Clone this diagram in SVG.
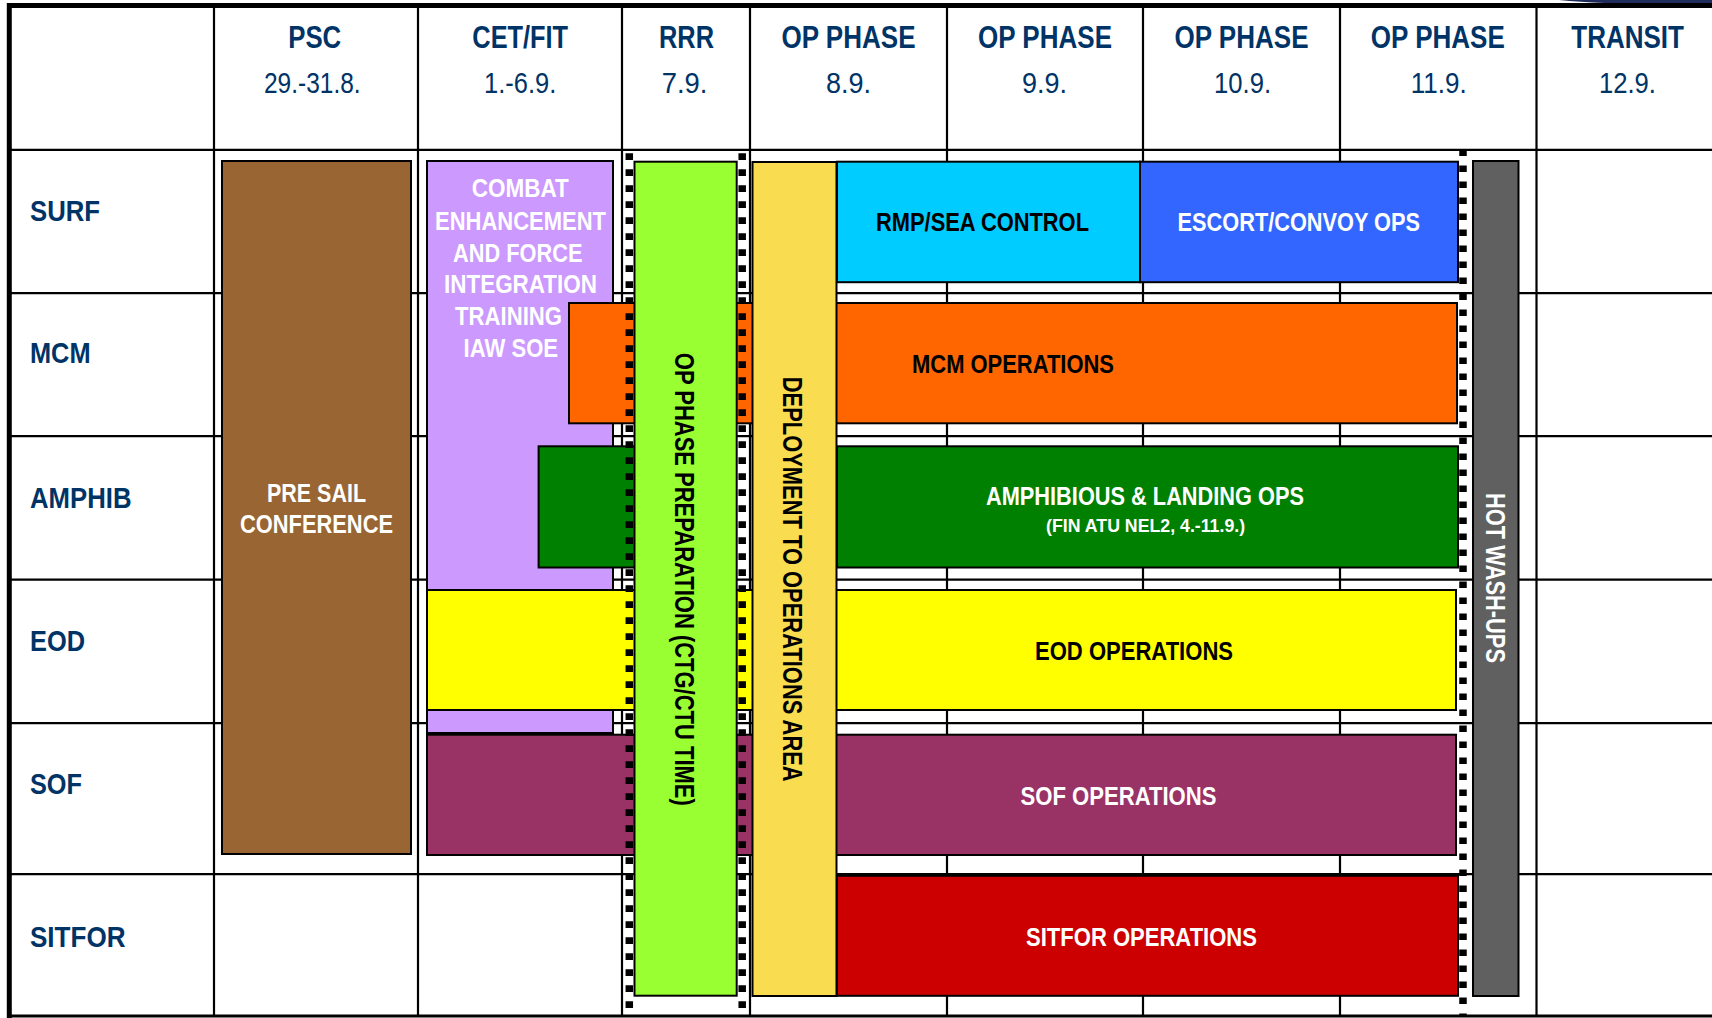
<svg xmlns="http://www.w3.org/2000/svg" width="1712" height="1018" viewBox="0 0 1712 1018">
<defs>
<style>
.hdr{font-family:"Liberation Sans Narrow","Arial Narrow","Liberation Sans",Arial,sans-serif;font-weight:bold;font-size:31px;fill:#003366;text-anchor:middle}
.date{font-family:"Liberation Sans Narrow","Arial Narrow","Liberation Sans",Arial,sans-serif;font-weight:normal;font-size:30px;fill:#003366;text-anchor:middle}
.row{font-family:"Liberation Sans Narrow","Arial Narrow","Liberation Sans",Arial,sans-serif;font-weight:bold;font-size:30px;fill:#003366}
.lbl{font-family:"Liberation Sans Narrow","Arial Narrow","Liberation Sans",Arial,sans-serif;font-weight:bold;font-size:25px;text-anchor:middle}
.sm{font-family:"Liberation Sans Narrow","Arial Narrow","Liberation Sans",Arial,sans-serif;font-weight:bold;font-size:18px;text-anchor:middle}
.vert{font-family:"Liberation Sans",Arial,sans-serif;font-weight:bold;font-size:28px;text-anchor:middle}
.w{fill:#fff}
.k{fill:#000}
.bar{stroke:#000;stroke-width:2}
.grid line{stroke:#000;stroke-width:2.2}
.dash{stroke:#000;stroke-width:7.5;stroke-dasharray:6.7 9.3;fill:none}
</style>
</defs>
<rect width="1712" height="1018" fill="#fff"/>
<path id="corner" d="M1559,0 Q1600,4 1660,4 L1712,4 L1712,0 Z" fill="#1f2d5c"/>

<g id="grid" class="grid">
<line x1="214" y1="3" x2="214" y2="1017"/>
<line x1="418" y1="3" x2="418" y2="1017"/>
<line x1="622" y1="3" x2="622" y2="1017"/>
<line x1="750" y1="3" x2="750" y2="1017"/>
<line x1="947" y1="3" x2="947" y2="1017"/>
<line x1="1143" y1="3" x2="1143" y2="1017"/>
<line x1="1340" y1="3" x2="1340" y2="1017"/>
<line x1="1536.5" y1="3" x2="1536.5" y2="1017"/>
<line x1="7" y1="149.8" x2="1712" y2="149.8"/>
<line x1="7" y1="293.2" x2="1712" y2="293.2"/>
<line x1="7" y1="436.2" x2="1712" y2="436.2"/>
<line x1="7" y1="579.6" x2="1712" y2="579.6"/>
<line x1="7" y1="723.2" x2="1712" y2="723.2"/>
<line x1="7" y1="874.2" x2="1712" y2="874.2"/>
<line x1="7" y1="1016" x2="1712" y2="1016" style="stroke-width:3"/>
<line x1="7" y1="5.6" x2="1712" y2="5.6" style="stroke-width:5"/>
<line x1="9.3" y1="3" x2="9.3" y2="1018" style="stroke-width:5"/>
</g>

<g id="headers">
<text class="hdr" x="314.7" y="47.6" textLength="53" lengthAdjust="spacingAndGlyphs">PSC</text>
<text class="date" x="312.3" y="92.7" textLength="96.7" lengthAdjust="spacingAndGlyphs">29.-31.8.</text>
<text class="hdr" x="520.2" y="47.6" textLength="95.7" lengthAdjust="spacingAndGlyphs">CET/FIT</text>
<text class="date" x="520.2" y="92.7" textLength="72.3" lengthAdjust="spacingAndGlyphs">1.-6.9.</text>
<text class="hdr" x="686.5" y="47.6" textLength="55" lengthAdjust="spacingAndGlyphs">RRR</text>
<text class="date" x="684.5" y="92.7" textLength="45.7" lengthAdjust="spacingAndGlyphs">7.9.</text>
<text class="hdr" x="848.5" y="47.6" textLength="134" lengthAdjust="spacingAndGlyphs">OP PHASE</text>
<text class="date" x="848.5" y="92.7" textLength="45" lengthAdjust="spacingAndGlyphs">8.9.</text>
<text class="hdr" x="1045" y="47.6" textLength="134" lengthAdjust="spacingAndGlyphs">OP PHASE</text>
<text class="date" x="1044.5" y="92.7" textLength="45" lengthAdjust="spacingAndGlyphs">9.9.</text>
<text class="hdr" x="1241.5" y="47.6" textLength="134" lengthAdjust="spacingAndGlyphs">OP PHASE</text>
<text class="date" x="1242.6" y="92.7" textLength="57" lengthAdjust="spacingAndGlyphs">10.9.</text>
<text class="hdr" x="1437.8" y="47.6" textLength="134" lengthAdjust="spacingAndGlyphs">OP PHASE</text>
<text class="date" x="1438.8" y="92.7" textLength="56" lengthAdjust="spacingAndGlyphs">11.9.</text>
<text class="hdr" x="1627.6" y="47.6" textLength="112.7" lengthAdjust="spacingAndGlyphs">TRANSIT</text>
<text class="date" x="1627.5" y="92.7" textLength="57" lengthAdjust="spacingAndGlyphs">12.9.</text>
</g>

<g id="rows">
<text class="row" x="30" y="221" textLength="70" lengthAdjust="spacingAndGlyphs">SURF</text>
<text class="row" x="30" y="363.3" textLength="60.5" lengthAdjust="spacingAndGlyphs">MCM</text>
<text class="row" x="30" y="507.7" textLength="101.5" lengthAdjust="spacingAndGlyphs">AMPHIB</text>
<text class="row" x="30" y="651" textLength="55" lengthAdjust="spacingAndGlyphs">EOD</text>
<text class="row" x="30" y="793.5" textLength="52" lengthAdjust="spacingAndGlyphs">SOF</text>
<text class="row" x="30" y="946.7" textLength="95.5" lengthAdjust="spacingAndGlyphs">SITFOR</text>
</g>

<g id="psc">
<rect class="bar" x="222" y="161" width="189" height="693" fill="#996633" stroke="#333"/>
<text class="lbl w" x="316.5" y="501.7" textLength="99" lengthAdjust="spacingAndGlyphs">PRE SAIL</text>
<text class="lbl w" x="316.5" y="533" textLength="153" lengthAdjust="spacingAndGlyphs">CONFERENCE</text>
</g>

<g id="cet">
<rect class="bar" x="427" y="161" width="186" height="572" fill="#cc99ff"/>
<text class="lbl w" x="520.2" y="197.3" textLength="97" lengthAdjust="spacingAndGlyphs">COMBAT</text>
<text class="lbl w" x="520.5" y="230" textLength="171" lengthAdjust="spacingAndGlyphs">ENHANCEMENT</text>
<text class="lbl w" x="517.8" y="261.7" textLength="129.5" lengthAdjust="spacingAndGlyphs">AND FORCE</text>
<text class="lbl w" x="520.5" y="293.3" textLength="153" lengthAdjust="spacingAndGlyphs">INTEGRATION</text>
<text class="lbl w" x="508.5" y="325" textLength="107" lengthAdjust="spacingAndGlyphs">TRAINING</text>
<text class="lbl w" x="510.8" y="357.3" textLength="94.5" lengthAdjust="spacingAndGlyphs">IAW SOE</text>
</g>

<g id="mcm">
<rect class="bar" x="569" y="303" width="888" height="120.3" fill="#ff6600"/>
<text class="lbl k" x="1013" y="372.7" textLength="202" lengthAdjust="spacingAndGlyphs">MCM OPERATIONS</text>
</g>

<g id="amphib">
<rect class="bar" x="538.6" y="446.3" width="100" height="121.2" fill="#008000"/>
<rect class="bar" x="837" y="446.3" width="621" height="121.2" fill="#008000"/>
<text class="lbl w" x="1145" y="505" textLength="318" lengthAdjust="spacingAndGlyphs">AMPHIBIOUS &amp; LANDING OPS</text>
<text class="sm w" x="1145.6" y="531.5" textLength="199" lengthAdjust="spacingAndGlyphs">(FIN ATU NEL2, 4.-11.9.)</text>
</g>

<g id="eod">
<rect class="bar" x="427" y="590" width="1029" height="120" fill="#ffff00"/>
<text class="lbl k" x="1134" y="660" textLength="198" lengthAdjust="spacingAndGlyphs">EOD OPERATIONS</text>
</g>

<g id="sof">
<rect class="bar" x="427" y="734.7" width="1029" height="120.3" fill="#993366"/>
<text class="lbl w" x="1118.5" y="805" textLength="196" lengthAdjust="spacingAndGlyphs">SOF OPERATIONS</text>
</g>

<g id="sitfor">
<rect class="bar" x="837" y="875.8" width="621" height="120" fill="#cc0000"/>
<text class="lbl w" x="1141.5" y="946" textLength="231" lengthAdjust="spacingAndGlyphs">SITFOR OPERATIONS</text>
</g>

<g id="rmp">
<rect class="bar" x="837" y="161.7" width="303" height="120.5" fill="#00ccff"/>
<text class="lbl k" x="982.5" y="230.7" textLength="213" lengthAdjust="spacingAndGlyphs">RMP/SEA CONTROL</text>
</g>

<g id="escort">
<rect class="bar" x="1140" y="161.7" width="318" height="120.5" fill="#3366ff"/>
<text class="lbl w" x="1298.8" y="230.7" textLength="242.4" lengthAdjust="spacingAndGlyphs">ESCORT/CONVOY OPS</text>
</g>

<g id="separators">
<line class="dash" x1="629.3" y1="153.3" x2="629.3" y2="1009"/>
<line class="dash" x1="742.2" y1="153.3" x2="742.2" y2="1009"/>
<line class="dash" x1="1463" y1="149.4" x2="1463" y2="1016"/>
</g>

<g id="rrr">
<rect class="bar" x="634.5" y="161.7" width="102.2" height="834" fill="#99ff33"/>
<text class="vert k" transform="translate(675,579.3) rotate(90)" textLength="453" lengthAdjust="spacingAndGlyphs">OP PHASE PREPARATION (CTG/CTU TIME)</text>
</g>

<g id="deployment">
<rect class="bar" x="752.5" y="162" width="84" height="834" fill="#f9dc50"/>
<text class="vert k" transform="translate(783.3,579.2) rotate(90)" textLength="405" lengthAdjust="spacingAndGlyphs">DEPLOYMENT TO OPERATIONS AREA</text>
</g>

<g id="hotwash">
<rect class="bar" x="1473" y="161" width="45.5" height="835" fill="#606060"/>
<text class="vert w" transform="translate(1485.5,578) rotate(90)" textLength="170" lengthAdjust="spacingAndGlyphs">HOT WASH-UPS</text>
</g>
</svg>
